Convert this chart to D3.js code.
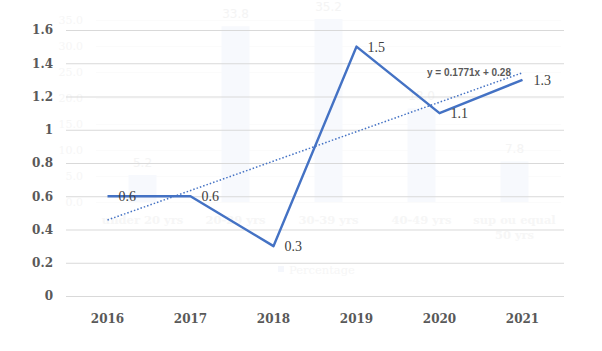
<!DOCTYPE html>
<html>
<head>
<meta charset="utf-8">
<script src="https://cdn.jsdelivr.net/npm/d3@7"></script>
<style>
  body { margin: 0; background: #fff; }
</style>
</head>
<body>
<div id="chart"></div>
<script>
  // main series
  const years = ['2016', '2017', '2018', '2019', '2020', '2021'];
  const values = [0.6, 0.6, 0.3, 1.5, 1.1, 1.3];
  const yTicks = [0, 0.2, 0.4, 0.6, 0.8, 1, 1.2, 1.4, 1.6];

  // faded chart showing through behind
  const ghostCats = ['under 20 yrs', '20-29 yrs', '30-39 yrs', '40-49 yrs', 'sup ou equal 50 yrs'];
  const ghostVals = [5.2, 33.8, 35.2, 18.0, 7.8];
  const ghostTicks = [0, 5, 10, 15, 20, 25, 30, 35];

  const width = 602;
  const height = 351;
  const margin = { top: 30, bottom: 55, left: 66, right: 38 };

  const svg = d3.select('#chart')
    .append('svg')
    .attr('width', width)
    .attr('height', height);

  // ---- ghost layer ----
  const gx = d3.scaleBand()
    .domain(ghostCats)
    .range([96, 561])
    .paddingInner(0.7)
    .paddingOuter(0.35);

  const gy = d3.scaleLinear()
    .domain([0, 35])
    .range([202, 20]);

  const ghost = svg.append('g');

  ghost.append('g')
    .selectAll('line')
    .data(ghostTicks)
    .join('line')
      .attr('x1', 96)
      .attr('x2', 561)
      .attr('y1', d => gy(d) + 0.5)
      .attr('y2', d => gy(d) + 0.5)
      .attr('stroke', '#fbfbfb');

  ghost.append('g')
    .selectAll('text')
    .data(ghostTicks)
    .join('text')
      .attr('x', 83)
      .attr('y', d => gy(d))
      .attr('dy', '0.35em')
      .attr('text-anchor', 'end')
      .attr('font-family', 'DejaVu Serif')
      .attr('font-size', '11px')
      .attr('fill', '#f6f6f6')
      .text(d => d.toFixed(1));

  ghost.append('g')
    .selectAll('rect')
    .data(ghostVals)
    .join('rect')
      .attr('x', (d, i) => gx(ghostCats[i]))
      .attr('y', d => gy(d))
      .attr('width', gx.bandwidth())
      .attr('height', d => gy(0) - gy(d))
      .attr('fill', '#f7f9fd');

  ghost.append('g')
    .selectAll('text')
    .data(ghostVals)
    .join('text')
      .attr('x', (d, i) => gx(ghostCats[i]) + gx.bandwidth() / 2)
      .attr('y', d => gy(d) - 8)
      .attr('text-anchor', 'middle')
      .attr('font-family', 'DejaVu Sans')
      .attr('font-size', '12px')
      .attr('fill', '#f4f4f4')
      .text(d => d.toFixed(1));

  const gLabels = ghost.append('g')
    .selectAll('text')
    .data(ghostCats)
    .join('text')
      .attr('x', d => gx(d) + gx.bandwidth() / 2)
      .attr('y', 224)
      .attr('text-anchor', 'middle')
      .attr('font-family', 'DejaVu Serif')
      .attr('font-weight', 'bold')
      .attr('font-size', '11.5px')
      .attr('fill', '#f6f6f6');
  gLabels.each(function(d) {
    const parts = d === 'sup ou equal 50 yrs' ? ['sup ou equal', '50 yrs'] : [d];
    d3.select(this).selectAll('tspan')
      .data(parts)
      .join('tspan')
        .attr('x', gx(d) + gx.bandwidth() / 2)
        .attr('dy', (p, i) => i ? 15 : 0)
        .text(p => p);
  });

  ghost.append('rect')
    .attr('x', 278).attr('y', 266).attr('width', 6).attr('height', 6)
    .attr('fill', '#f5f7fc');
  ghost.append('text')
    .attr('x', 289).attr('y', 270).attr('dy', '0.35em')
    .attr('font-family', 'DejaVu Serif')
    .attr('font-size', '11.5px')
    .attr('fill', '#f6f6f6')
    .text('Percentage');

  // ---- main chart ----
  const x = d3.scaleBand()
    .domain(years)
    .range([margin.left, width - margin.right]);

  const y = d3.scaleLinear()
    .domain([0, 1.6])
    .range([height - margin.bottom, margin.top]);

  svg.append('g')
    .attr('transform', `translate(${margin.left},0)`)
    .call(d3.axisLeft(y).tickValues(yTicks).tickSize(-(width - margin.left - margin.right)).tickFormat(d => d3.format('~g')(d)))
    .call(g => g.select('.domain').remove())
    .call(g => g.selectAll('.tick line').attr('stroke', '#d9d9d9'))
    .call(g => g.selectAll('.tick text')
      .attr('x', -13)
      .attr('font-family', 'DejaVu Serif')
      .attr('font-weight', 'bold')
      .attr('font-size', '12px')
      .attr('fill', '#595959'));

  svg.append('g')
    .attr('transform', `translate(0,${height - margin.bottom})`)
    .call(d3.axisBottom(x).tickSize(0).tickPadding(18))
    .call(g => g.select('.domain').remove())
    .call(g => g.selectAll('.tick text')
      .attr('font-family', 'DejaVu Serif')
      .attr('font-weight', 'bold')
      .attr('font-size', '12px')
      .attr('fill', '#595959'));

  const cx = (d, i) => x(years[i]) + x.bandwidth() / 2;

  // linear trend, x = 1..n
  const n = values.length;
  const mx = (n + 1) / 2;
  const my = d3.mean(values);
  const slope = d3.sum(values, (v, i) => (i + 1 - mx) * (v - my)) / d3.sum(values, (v, i) => (i + 1 - mx) ** 2);
  const intercept = my - slope * mx;

  svg.append('line')
    .attr('x1', cx(null, 0))
    .attr('y1', y(intercept + slope * 1))
    .attr('x2', cx(null, n - 1))
    .attr('y2', y(intercept + slope * n))
    .attr('stroke', '#4472c4')
    .attr('stroke-width', 1.5)
    .attr('stroke-dasharray', '1.5 2');

  svg.append('path')
    .datum(values)
    .attr('fill', 'none')
    .attr('stroke', '#4472c4')
    .attr('stroke-width', 2.5)
    .attr('stroke-linejoin', 'round')
    .attr('d', d3.line().x(cx).y(d => y(d)));

  svg.append('g')
    .selectAll('text')
    .data(values)
    .join('text')
      .attr('x', (d, i) => cx(d, i) + 11)
      .attr('y', d => y(d))
      .attr('dy', '0.35em')
      .attr('font-family', 'Liberation Serif')
      .attr('font-size', '14px')
      .attr('fill', '#404040')
      .text(d => d.toFixed(1));

  svg.append('text')
    .attr('x', 511)
    .attr('y', y(intercept + slope * n))
    .attr('dy', '0.35em')
    .attr('text-anchor', 'end')
    .attr('font-family', 'Liberation Sans')
    .attr('font-weight', 'bold')
    .attr('font-size', '10px')
    .attr('fill', '#595959')
    .text(`y = ${slope.toFixed(4)}x + ${intercept.toFixed(2)}`);
</script>
</body>
</html>
